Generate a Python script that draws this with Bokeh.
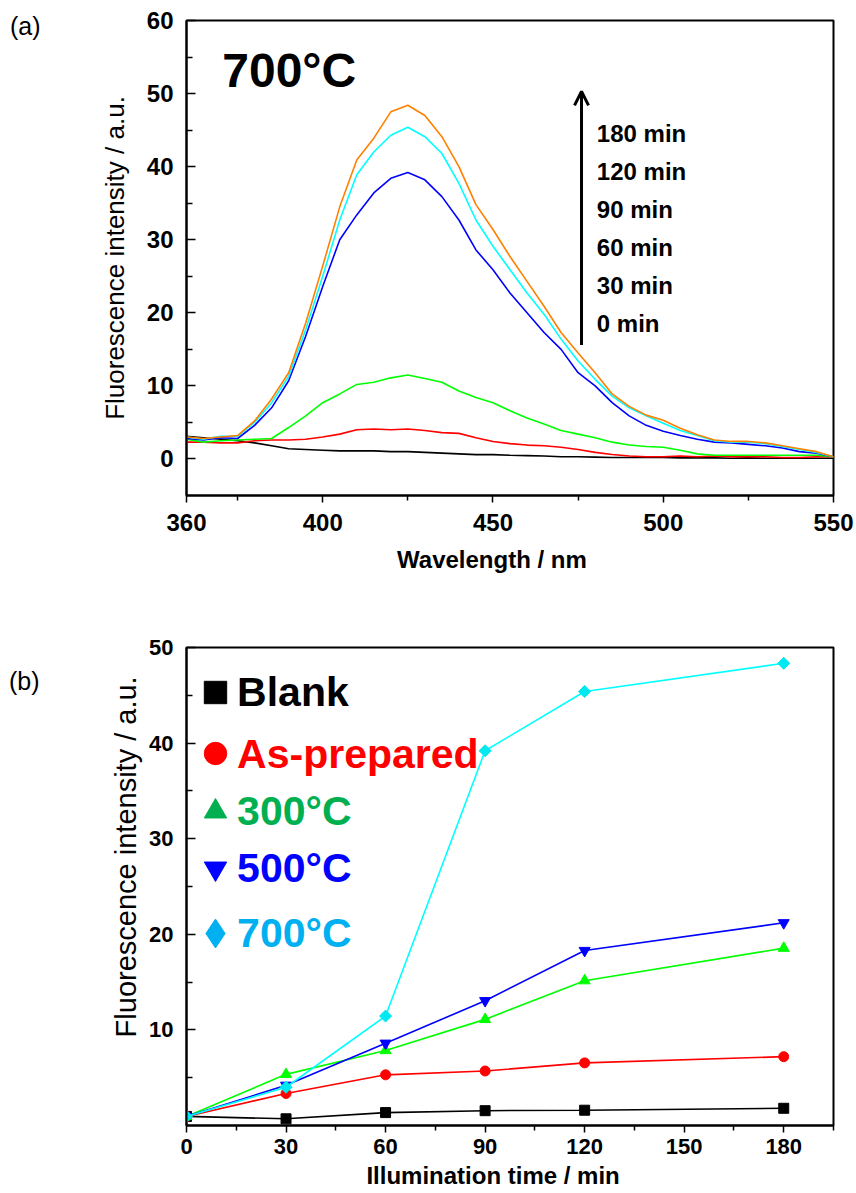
import math
from bokeh.plotting import figure
from bokeh.models import (Range1d, FixedTicker, Label, Arrow, OpenHead, Legend,
                          LegendItem, ColumnDataSource, LinearAxis, CustomJSTickFormatter)
from bokeh.layouts import column
from bokeh.embed import file_html
from bokeh.resources import INLINE

FONT = "Liberation Sans"

# ---------------- (a) spectra, 700 C sample ----------------
wavelength = [360, 365, 370, 375, 380, 385, 390, 395, 400, 405, 410, 415, 420,
              425, 430, 435, 440, 445, 450, 455, 460, 465, 470, 475, 480, 485,
              490, 495, 500, 505, 510, 515, 520, 525, 530, 535, 540, 545, 550]
spec_0min = [3.1, 2.9, 2.7, 2.5, 2.2, 1.8, 1.4, 1.3, 1.2, 1.1, 1.1, 1.1, 1.0,
             1.0, 0.9, 0.8, 0.7, 0.6, 0.6, 0.5, 0.45, 0.4, 0.3, 0.3, 0.25, 0.2,
             0.2, 0.2, 0.2, 0.15, 0.15, 0.15, 0.1, 0.15, 0.1, 0.1, 0.1, 0.1, 0.1]
spec_30min = [2.3, 2.3, 2.2, 2.2, 2.5, 2.6, 2.6, 2.7, 3.0, 3.4, 4.0, 4.1, 4.0,
              4.1, 3.9, 3.6, 3.5, 2.9, 2.4, 2.1, 1.9, 1.8, 1.6, 1.3, 0.9, 0.6,
              0.4, 0.3, 0.3, 0.4, 0.3, 0.4, 0.3, 0.3, 0.3, 0.2, 0.2, 0.3, 0.3]
spec_60min = [2.7, 2.3, 2.5, 2.6, 2.7, 2.8, 4.3, 5.9, 7.7, 8.9, 10.2, 10.5, 11.1,
              11.5, 11.0, 10.5, 9.3, 8.4, 7.7, 6.6, 5.6, 4.8, 3.9, 3.4, 2.9, 2.3,
              1.9, 1.7, 1.6, 1.2, 0.7, 0.5, 0.5, 0.5, 0.5, 0.5, 0.5, 0.5, 0.3]
spec_90min = [2.8, 2.6, 2.9, 2.8, 4.6, 7.0, 10.7, 16.8, 23.6, 30.0, 33.4, 36.4, 38.4,
              39.2, 38.2, 35.9, 32.7, 28.6, 25.9, 22.7, 20.0, 17.3, 15.0, 11.8, 10.0, 7.7,
              5.9, 4.6, 3.8, 3.2, 2.7, 2.3, 2.2, 2.0, 1.8, 1.5, 1.0, 0.8, 0.3]
spec_120min = [3.0, 2.7, 3.1, 3.1, 5.0, 7.7, 11.3, 17.7, 25.0, 32.7, 38.9, 42.0, 44.3,
               45.4, 44.1, 41.8, 37.7, 32.7, 29.1, 25.9, 22.7, 19.8, 16.4, 13.4, 10.9, 8.6,
               7.0, 5.9, 4.9, 3.9, 3.2, 2.5, 2.3, 2.3, 2.1, 1.7, 1.3, 0.9, 0.3]
spec_180min = [3.0, 2.8, 3.0, 3.2, 5.2, 8.2, 11.8, 18.6, 26.4, 34.5, 40.9, 43.9, 47.5,
               48.4, 47.0, 44.1, 40.0, 34.8, 31.4, 27.7, 24.3, 20.9, 17.3, 14.5, 11.8, 8.9,
               7.2, 6.0, 5.3, 4.2, 3.3, 2.6, 2.4, 2.4, 2.2, 1.8, 1.4, 1.0, 0.3]
spectra = [spec_0min, spec_30min, spec_60min, spec_90min, spec_120min, spec_180min]
spectra_colors = ["#000000", "#FF0000", "#00FF00", "#0000FF", "#00FFFF", "#FF8000"]
time_labels = ["180 min", "120 min", "90 min", "60 min", "30 min", "0 min"]

# ---------------- (b) intensity vs illumination time ----------------
time_min = [0, 30, 60, 90, 120, 180]
blank = [0.95, 0.7, 1.35, 1.55, 1.6, 1.8]
as_prepared = [0.95, 3.35, 5.3, 5.7, 6.55, 7.2]
c300 = [0.95, 5.35, 7.85, 11.1, 15.15, 18.55]
c500 = [0.95, 4.2, 8.6, 13.05, 18.3, 21.2]
c700 = [0.95, 4.0, 11.45, 39.2, 45.4, 48.35]
series_names = ["Blank", "As-prepared", "300°C", "500°C", "700°C"]


def style_axes(p, xt, xminor, yt, yminor, tick_size):
    p.grid.visible = False
    p.outline_line_color = "black"
    p.outline_line_width = 2
    p.background_fill_color = "white"
    p.border_fill_color = "white"
    for ax in (p.xaxis[0], p.yaxis[0]):
        ax.axis_line_width = 2
        ax.major_tick_line_width = 1.5
        ax.minor_tick_line_width = 1.5
        ax.major_label_text_font = FONT
        ax.major_label_text_font_style = "bold"
        ax.major_label_text_font_size = tick_size
        ax.major_label_text_color = "black"
        ax.axis_label_text_font = FONT
        ax.axis_label_text_color = "black"
        ax.axis_label_text_font_style = "normal"
    p.xaxis[0].ticker = FixedTicker(ticks=xt, minor_ticks=xminor)
    p.yaxis[0].ticker = FixedTicker(ticks=yt, minor_ticks=yminor)
    p.xaxis[0].major_tick_in = 0
    p.xaxis[0].major_tick_out = 7
    p.xaxis[0].minor_tick_in = 0
    p.xaxis[0].minor_tick_out = 5
    p.yaxis[0].major_tick_in = 9
    p.yaxis[0].major_tick_out = 0
    p.yaxis[0].minor_tick_in = 6
    p.yaxis[0].minor_tick_out = 0


def text_axis(p, side, pos, text, size, style, standoff, orientation="horizontal"):
    """An extra, line-less axis whose single tick label carries a piece of text."""
    ax = LinearAxis(ticker=FixedTicker(ticks=[pos], minor_ticks=[]),
                    formatter=CustomJSTickFormatter(args=dict(t=text), code="return t;"),
                    axis_line_color=None, major_tick_line_color=None,
                    minor_tick_line_color=None, major_tick_in=0, major_tick_out=0,
                    minor_tick_in=0, minor_tick_out=0, major_label_standoff=standoff,
                    major_label_text_font=FONT, major_label_text_font_size=size,
                    major_label_text_font_style=style, major_label_text_color="black",
                    major_label_orientation=orientation)
    p.add_layout(ax, side)
    return ax


# ---------- top figure ----------
p1 = figure(width=856, height=600, x_range=Range1d(360, 550), y_range=Range1d(-5, 60),
            output_backend="svg", toolbar_location=None,
            min_border_left=183, min_border_right=23, min_border_top=20, min_border_bottom=105,
            y_axis_label="Fluorescence intensity / a.u.")
style_axes(p1, [360, 400, 450, 500, 550], [375, 425, 475, 525],
           list(range(0, 61, 10)), list(range(5, 60, 10)), "24px")
p1.yaxis[0].axis_label_text_font_size = "26px"
p1.xaxis[0].major_label_standoff = 11
p1.yaxis[0].major_label_standoff = 13
p1.yaxis[0].axis_label_standoff = 14
text_axis(p1, "below", 449.7, "Wavelength / nm", "24px", "bold", 12)
text_axis(p1, "left", 59.3, "(a)", "25px", "normal", 56)

for vals, col in zip(spectra, spectra_colors):
    p1.line(wavelength, vals, line_color=col, line_width=1.6)

p1.add_layout(Arrow(end=OpenHead(size=14, line_width=3, line_color="black"),
                    x_start=476, y_start=15.6, x_end=476, y_end=50.3,
                    line_width=3, line_color="black"))
for i, t in enumerate(time_labels):
    p1.add_layout(Label(x=480.5, y=44.5 - i * 5.2, text=t, text_font=FONT,
                        text_font_style="bold", text_font_size="24px",
                        text_baseline="middle", text_color="black"))
p1.add_layout(Label(x=370.5, y=53.2, text="700°C", text_font=FONT, text_font_style="bold",
                    text_font_size="48px", text_baseline="middle", text_color="black"))

# ---------- bottom figure ----------
p2 = figure(width=856, height=593, x_range=Range1d(0, 195), y_range=Range1d(0, 50),
            output_backend="svg", toolbar_location=None,
            min_border_left=186, min_border_right=19, min_border_top=47, min_border_bottom=68)
style_axes(p2, list(range(0, 181, 30)), list(range(15, 196, 30)),
           list(range(10, 51, 10)), list(range(5, 50, 10)), "22px")
p2.xaxis[0].major_label_standoff = 6
p2.yaxis[0].major_label_standoff = 13
text_axis(p2, "below", 92.4, "Illumination time / min", "24px", "bold", 5)
text_axis(p2, "left", 28.1, "Fluorescence intensity / a.u.", "29px", "normal", 4, "vertical")
text_axis(p2, "left", 46.5, "(b)", "25px", "normal", 68)

series = [blank, as_prepared, c300, c500, c700]
line_cols = ["#000000", "#FF0000", "#00FF00", "#0000FF", "#00FFFF"]
mark_cols = ["#000000", "#FF0000", "#00FF00", "#0000FF", "#00E8F0"]
markers = ["square", "circle", "triangle", "inverted_triangle", "square"]
sizes = [10, 10, 11, 11, 8.5]
angles = [0, 0, 0, 0, math.pi / 4]
for vals, lc, mc, mk, sz, an in zip(series, line_cols, mark_cols, markers, sizes, angles):
    p2.line(time_min, vals, line_color=lc, line_width=1.6)
    p2.scatter(time_min, vals, marker=mk, size=sz, angle=an, fill_color=mc, line_color=mc)

# legend keys (one Legend per key) + coloured legend texts
leg_text_cols = ["#000000", "#FF0000", "#00B050", "#0000FF", "#00B0F0"]
leg_markers = ["square", "circle", "triangle", "inverted_triangle", "diamond"]
leg_centers = [433, 372, 314, 257, 192]   # px above frame bottom
leg_glyph = [56, 56, 56, 56, 72]
leg_text_y = [45.3, 38.9, 32.85, 26.9, 20.1]
nan_src = ColumnDataSource(data=dict(x=[float("nan")], y=[float("nan")]))
for name, tc, mk, cy, g, ty in zip(series_names, leg_text_cols, leg_markers,
                                    leg_centers, leg_glyph, leg_text_y):
    r = p2.scatter("x", "y", source=nan_src, marker=mk, fill_color=tc, line_color=tc)
    leg = Legend(items=[LegendItem(label=" ", renderers=[r])],
                 location=(29 - g // 2, cy - g // 2), padding=0, margin=0, spacing=0,
                 glyph_width=g, glyph_height=g, label_standoff=0,
                 label_text_font_size="10px",
                 border_line_alpha=0, background_fill_alpha=0)
    p2.add_layout(leg)
    p2.add_layout(Label(x=15.25, y=ty, text=name, text_font=FONT, text_font_style="bold",
                        text_font_size="41px", text_baseline="middle", text_color=tc))

layout = column(p1, p2, spacing=0)
open("out.html", "w").write(file_html(layout, INLINE))
